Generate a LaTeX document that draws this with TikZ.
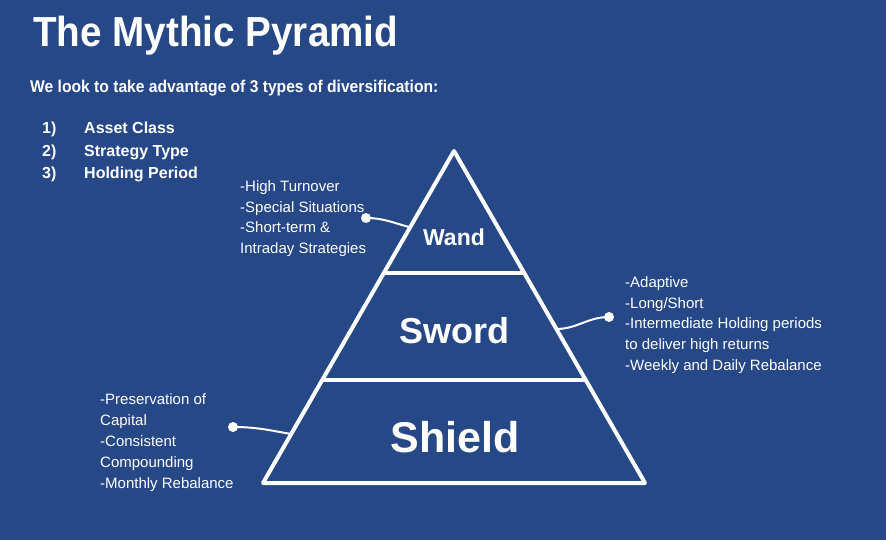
\documentclass[tikz,border=0pt]{standalone}
\usepackage{fontspec}
\setmainfont{Liberation Sans}
\newfontfamily\narrowfont[FakeStretch=0.92]{Liberation Sans}
\definecolor{bg}{RGB}{38,72,134}
\begin{document}
\begin{tikzpicture}[x=1pt,y=-1pt,
  lbl/.style={anchor=base west,inner sep=0pt,text=white,font=\fontsize{15}{18}\selectfont},
  hd/.style={anchor=base west,inner sep=0pt,text=white},
  item/.style={hd,font=\fontsize{16}{20}\bfseries\selectfont},
  tier/.style={inner sep=0pt,text=white,anchor=base},
  pyr/.style={draw=white,line width=4pt,line join=round,line cap=round},
  dotn/.style={circle,fill=white,inner sep=0pt,minimum size=10pt},
  conn/.style={draw=white,line width=2pt}]
\fill[bg] (0,0) rectangle (886,540);
\useasboundingbox (0,0) rectangle (886,540);
% title and intro
\node[hd,font=\narrowfont\fontsize{42}{48}\bfseries\selectfont] (title) at (33,47) {The Mythic Pyramid};
\node[hd,font=\narrowfont\fontsize{17}{20}\bfseries\selectfont] (sub) at (30,93) {We look to take advantage of 3 types of diversification:};
\node[item] (n1) at (42,134) {1)};
\node[item] (n2) at (42,157) {2)};
\node[item] (n3) at (42,179) {3)};
\node[item] (i1) at (84,134) {Asset Class};
\node[item] (i2) at (84,157) {Strategy Type};
\node[item] (i3) at (84,179) {Holding Period};
% pyramid
\coordinate (apex) at (454,151);
\coordinate (bl) at (263,483);
\coordinate (br) at (645,483);
\coordinate (d1l) at (384,273);
\coordinate (d1r) at (524,273);
\coordinate (d2l) at (323,380);
\coordinate (d2r) at (585,380);
\draw[pyr] (apex) -- (br) -- (bl) -- cycle;
\draw[pyr] (d1l) -- (d1r);
\draw[pyr] (d2l) -- (d2r);
\node[tier,font=\fontsize{23}{26}\bfseries\selectfont] (wand) at (454,245) {Wand};
\node[tier,font=\fontsize{36}{40}\bfseries\selectfont] (sword) at (454,343) {Sword};
\node[tier,font=\fontsize{43}{46}\bfseries\selectfont] (shield) at (455,452) {Shield};
% wand labels
\node[lbl] (w1) at (240,192) {-High Turnover};
\node[lbl] (w2) at (240,212) {-Special Situations};
\node[lbl] (w3) at (240,232.5) {-Short-term \&};
\node[lbl] (w4) at (240,253) {Intraday Strategies};
% sword labels
\node[lbl] (s1) at (625,287) {-Adaptive};
\node[lbl] (s2) at (625,308) {-Long/Short};
\node[lbl] (s3) at (625,328.5) {-Intermediate Holding periods};
\node[lbl] (s4) at (625,349) {to deliver high returns};
\node[lbl] (s5) at (625,370) {-Weekly and Daily Rebalance};
% shield labels
\node[lbl] (h1) at (100,404) {-Preservation of};
\node[lbl] (h2) at (100,425) {Capital};
\node[lbl] (h3) at (100,446) {-Consistent};
\node[lbl] (h4) at (100,467) {Compounding};
\node[lbl] (h5) at (100,488) {-Monthly Rebalance};
% connectors
\node[dotn] (wd) at (366,218) {};
\coordinate (we) at (409,227);
\draw[conn] (wd.center) to[out=0,in=165] (we);
\node[dotn] (sd) at (609,317) {};
\coordinate (se) at (556,329);
\draw[conn] (sd.center) to[out=180,in=0] (se);
\node[dotn] (hd) at (233,427) {};
\coordinate (he) at (291,434);
\draw[conn] (hd.center) to[out=0,in=170] (he);
\end{tikzpicture}
\end{document}
